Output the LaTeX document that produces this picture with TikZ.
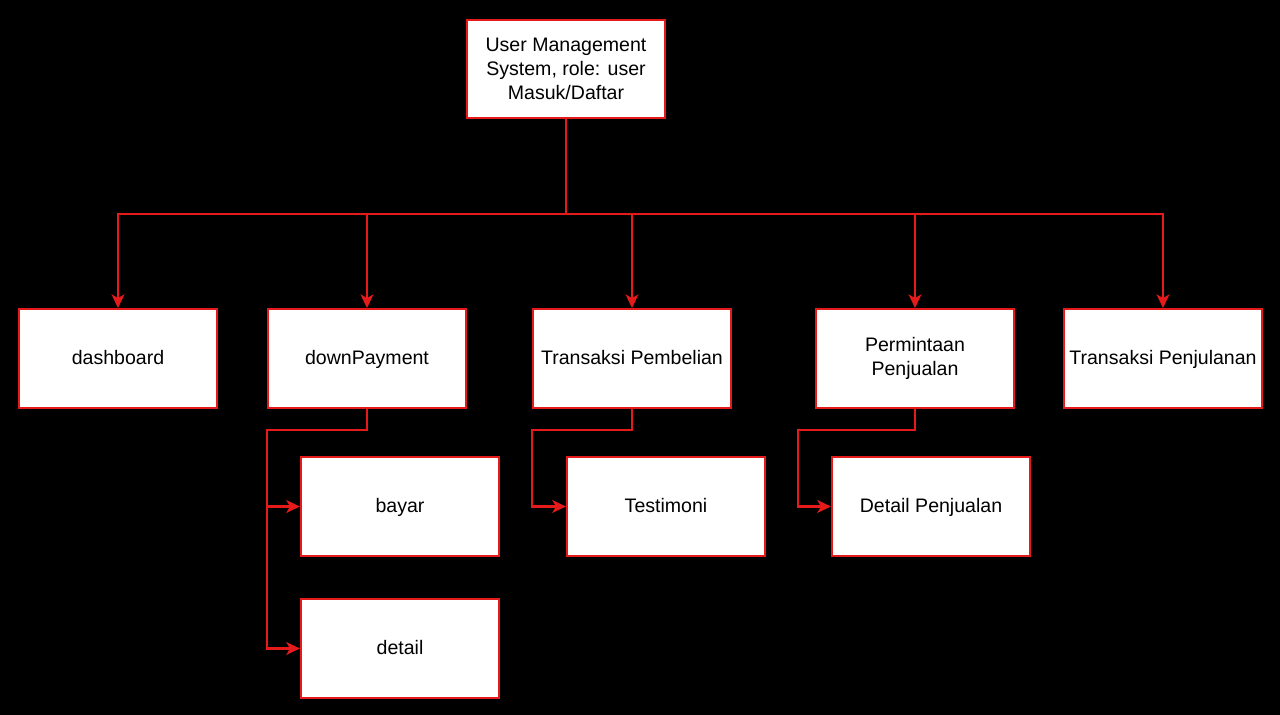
\documentclass[tikz,border=0pt]{standalone}
\usepackage{fontspec}
\setmainfont{Liberation Sans}
\usetikzlibrary{positioning, arrows.meta, calc}
\definecolor{cBg}{HTML}{000000}
\definecolor{cEdge}{HTML}{E51A1A}
\definecolor{cBox}{HTML}{FFFFFF}

\begin{document}
\begin{tikzpicture}[
  x=0.025cm, y=-0.025cm,
  font=\fontsize{13.9}{17.3}\selectfont,
  >={Stealth[length=3.4mm, width=3.2mm, inset=0.9mm]},
  block/.style={draw=cEdge, fill=cBox, line width=1.5pt, text=black,
                minimum width=4.95cm, minimum height=2.47cm, align=center,
                inner sep=1pt},
  single/.style={block, text height=1.9ex, text depth=0.2ex},
  flow/.style={->, draw=cEdge, line width=1.5pt, color=cEdge},
]

% ---- Background ---------------------------------------------------------
\fill[cBg] (0,0) rectangle (1280,715);

% ---- Root ---------------------------------------------------------------
\node[block] (root) at (566,69)
  {User Management\\System, role: user\\Masuk/Daftar};

% ---- First level menus --------------------------------------------------
\node[single] (dash) at (118,358.5) {dashboard};
\node[single] (dp) at (367,358.5) {downPayment};
\node[single] (beli) at (632,358.5) {Transaksi Pembelian};
\node[block] (minta) at (915,358.5) {Permintaan\\Penjualan};
\node[single] (jual) at (1163,358.5) {Transaksi Penjulanan};

% ---- Second level pages -------------------------------------------------
\node[single] (bayar) at (400,506.5) {bayar};
\node[single] (detail) at (400,648.5) {detail};
\node[single] (testi) at (666,506.5) {Testimoni};
\node[single] (djual) at (931,506.5) {Detail Penjualan};

% ---- Connections --------------------------------------------------------
\coordinate (bus) at (566,214);
\foreach \t in {dash,dp,beli,minta,jual} {
  \draw[flow] (root.south) -- (bus) -| (\t.north);
}

\coordinate (dpbend) at (267,430);
\coordinate (belibend) at (532,430);
\coordinate (mintabend) at (798,430);
\draw[flow] (dp.south) |- (dpbend) |- (bayar.west);
\draw[flow] (dp.south) |- (dpbend) |- (detail.west);
\draw[flow] (beli.south) |- (belibend) |- (testi.west);
\draw[flow] (minta.south) |- (mintabend) |- (djual.west);

\end{tikzpicture}
\end{document}
